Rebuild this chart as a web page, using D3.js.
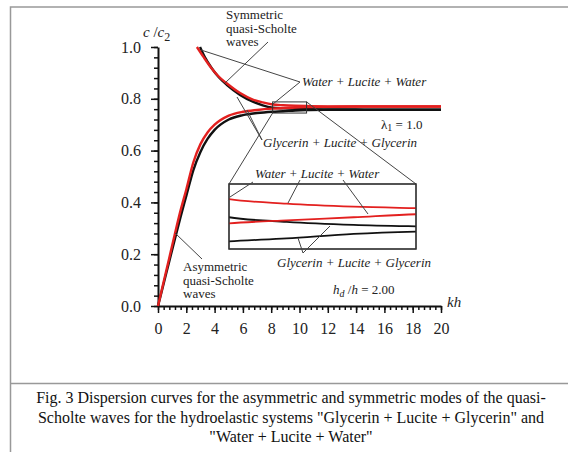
<html>
<head>
  <style>
    body { margin: 0; background: #fff; }
    svg text { font-family: "Liberation Serif", "Times New Roman", serif; fill: #222; }
    svg .domain { stroke: #111; stroke-width: 2px; }
    svg .tick line { stroke: #111; stroke-width: 1.5px; }
    svg .tick text { font-size: 16px; font-family: "Liberation Serif", serif; }
    svg .lead { stroke: #444; stroke-width: 1px; fill: none; }
    svg .frame { stroke: #999; stroke-width: 1.5px; fill: none; }
    svg .curve { fill: none; stroke-width: 2.4px; stroke-linejoin: round; }
    svg .box { stroke: #333; stroke-width: 1.2px; fill: #fff; }
    svg .note { font-size: 13px; }
    svg .it { font-style: italic; }
  </style>
</head>
<body>
<div id="chart"></div>
<script src="https://d3js.org/d3.v7.min.js"></script>
<script>
  // axis ticks
  var xTicks = [0, 2, 4, 6, 8, 10, 12, 14, 16, 18, 20];
  var yTicks = [0.0, 0.2, 0.4, 0.6, 0.8, 1.0];

  // symmetric quasi-Scholte waves (upper branches)
  var khWaterSym = [2.75, 3.2, 3.7, 4.25, 4.85, 5.8, 6.7, 7.4, 8.1, 8.84, 9.7, 10.5, 12, 14, 17, 20];
  var cWaterSym  = [1.0, 0.963, 0.924, 0.888, 0.86, 0.822, 0.797, 0.786, 0.778, 0.775, 0.773, 0.772, 0.7705, 0.770, 0.770, 0.770];
  var khGlySym   = [2.97, 3.3, 3.8, 4.3, 4.9, 5.8, 6.7, 7.4, 8.1, 8.84, 9.7, 10.5, 12, 14, 17, 20];
  var cGlySym    = [1.0, 0.962, 0.918, 0.883, 0.852, 0.815, 0.789, 0.775, 0.766, 0.763, 0.761, 0.760, 0.759, 0.7585, 0.758, 0.758];

  // asymmetric quasi-Scholte waves (lower branches)
  var khAsym     = [0, 0.3, 0.6, 0.9, 1.2, 1.6, 2.0, 2.5, 3.0, 3.5, 4.0, 5.0, 6.0, 7.0, 8.1, 8.84, 9.7, 10.5, 12, 14, 17, 20];
  var cWaterAsym = [0, 0.07, 0.14, 0.21, 0.28, 0.37, 0.45, 0.555, 0.625, 0.67, 0.70, 0.735, 0.750, 0.757, 0.762, 0.764, 0.766, 0.768, 0.769, 0.770, 0.770, 0.770];
  var cGlyAsym   = [0, 0.065, 0.13, 0.195, 0.26, 0.345, 0.425, 0.525, 0.595, 0.645, 0.68, 0.72, 0.737, 0.745, 0.750, 0.752, 0.755, 0.7565, 0.7575, 0.758, 0.758, 0.758];

  // zoom window shown in the inset
  var insetKh = [8.1, 10.5];
  var insetC  = [0.745, 0.788];

  var caption = [
    "Fig. 3 Dispersion curves for the asymmetric and symmetric modes of the quasi-",
    "Scholte waves for the hydroelastic systems \"Glycerin + Lucite + Glycerin\" and",
    "\"Water + Lucite + Water\""
  ];

  var W = 568, H = 452;
  var RED = "#e3201f", BLACK = "#111";

  var svg = d3.select("#chart").append("svg")
      .attr("width", W)
      .attr("height", H);

  // page frame
  svg.append("path").classed("frame", true)
      .attr("d", "M568,7 H10.5 V452 M10.5,383.5 H568");

  var x = d3.scaleLinear().domain([0, 20]).range([158, 441]);
  var y = d3.scaleLinear().domain([0, 1]).range([306, 47]);

  var series = [
    { kh: khGlySym,  c: cGlySym,    color: BLACK },
    { kh: khAsym,    c: cGlyAsym,   color: BLACK },
    { kh: khWaterSym, c: cWaterSym, color: RED },
    { kh: khAsym,    c: cWaterAsym, color: RED }
  ];

  function pts(s) {
    return s.kh.map(function (k, i) { return [k, s.c[i]]; });
  }

  var line = d3.line()
      .x(function (d) { return x(d[0]); })
      .y(function (d) { return y(d[1]); })
      .curve(d3.curveMonotoneX);

  // axes
  var xMinor = d3.range(0, 20.001, 0.4);
  var yMinor = d3.range(0, 1.001, 0.04);

  svg.append("g")
      .attr("transform", "translate(0," + y(0) + ")")
      .call(d3.axisBottom(x).tickValues(xMinor).tickSize(4).tickFormat(""))
      .select(".domain").remove();
  svg.append("g")
      .attr("transform", "translate(" + x(0) + ",0)")
      .call(d3.axisLeft(y).tickValues(yMinor).tickSize(4).tickFormat(""))
      .select(".domain").remove();

  svg.append("g")
      .attr("transform", "translate(0," + y(0) + ")")
      .call(d3.axisBottom(x).tickValues(xTicks).tickSize(7).tickSizeOuter(0).tickPadding(10));
  svg.append("g")
      .attr("transform", "translate(" + x(0) + ",0)")
      .call(d3.axisLeft(y).tickValues(yTicks).tickFormat(d3.format(".1f"))
        .tickSize(7).tickSizeOuter(0).tickPadding(10));

  // curves
  svg.selectAll("path.main")
    .data(series)
    .enter().append("path")
      .attr("class", "curve main")
      .attr("d", function (s) { return line(pts(s)); })
      .style("stroke", function (s) { return s.color; });

  // axis titles
  var ct = svg.append("text").attr("x", 143).attr("y", 37).style("font-size", "15px");
  ct.append("tspan").classed("it", true).text("c");
  ct.append("tspan").text(" /");
  ct.append("tspan").classed("it", true).text("c");
  ct.append("tspan").attr("dy", 4).style("font-size", "12px").text("2");

  svg.append("text").attr("x", 447).attr("y", 307)
      .classed("it", true).style("font-size", "15px").text("kh");

  // small zoom box and connectors
  var bx0 = x(insetKh[0]), bx1 = x(insetKh[1]);
  var by0 = y(insetC[1]), by1 = y(insetC[0]);
  var ix0 = 229, ix1 = 416, iy0 = 184, iy1 = 249;

  svg.append("path").classed("lead", true)
      .attr("d", "M" + ix0 + "," + iy0 + "L" + bx0 + "," + by1 +
                 "M" + ix1 + "," + iy0 + "L" + bx1 + "," + by0);
  svg.append("rect")
      .attr("x", bx0).attr("y", by0)
      .attr("width", bx1 - bx0).attr("height", by1 - by0)
      .style("fill", "none").style("stroke", "#333").style("stroke-width", "1px");

  // inset
  var xi = d3.scaleLinear().domain(insetKh).range([ix0, ix1]);
  var yi = d3.scaleLinear().domain(insetC).range([iy1, iy0]);

  svg.append("rect").classed("box", true)
      .attr("x", ix0).attr("y", iy0)
      .attr("width", ix1 - ix0).attr("height", iy1 - iy0);

  svg.append("clipPath").attr("id", "insetClip")
    .append("rect")
      .attr("x", ix0).attr("y", iy0)
      .attr("width", ix1 - ix0).attr("height", iy1 - iy0);

  var lineInset = d3.line()
      .x(function (d) { return xi(d[0]); })
      .y(function (d) { return yi(d[1]); })
      .curve(d3.curveMonotoneX);

  svg.append("g").attr("clip-path", "url(#insetClip)")
    .selectAll("path")
    .data(series)
    .enter().append("path")
      .attr("class", "curve")
      .style("stroke-width", "1.8px")
      .attr("d", function (s) { return lineInset(pts(s)); })
      .style("stroke", function (s) { return s.color; });

  svg.append("rect")
      .attr("x", ix0).attr("y", iy0)
      .attr("width", ix1 - ix0).attr("height", iy1 - iy0)
      .style("fill", "none").style("stroke", "#333").style("stroke-width", "1.2px");

  // leader lines for the labels
  var leads = [
    [[268, 42], [225, 83]],
    [[300, 82], [201, 50]],
    [[300, 82], [273, 104]],
    [[262, 140], [237, 97]],
    [[262, 140], [247, 110]],
    [[202, 259], [175, 233]],
    [[253, 182], [230, 197]],
    [[300, 180], [288, 203]],
    [[343, 180], [368, 214]],
    [[303, 253], [298, 238]],
    [[303, 253], [330, 226]]
  ];
  svg.selectAll("path.ld")
    .data(leads)
    .enter().append("path")
      .attr("class", "lead ld")
      .attr("d", function (d) { return d3.line()(d); });

  // annotation texts
  function block(x0, y0, lines) {
    var t = svg.append("text").classed("note", true);
    lines.forEach(function (s, i) {
      t.append("tspan").attr("x", x0).attr("y", y0 + i * 13.5).text(s);
    });
  }
  block(226, 19, ["Symmetric", "quasi-Scholte", "waves"]);
  block(183, 271, ["Asymmetric", "quasi-Scholte", "waves"]);

  function it(x0, y0, s) {
    svg.append("text").attr("class", "note it")
        .attr("x", x0).attr("y", y0).text(s);
  }
  it(302, 86, "Water + Lucite + Water");
  it(263, 147, "Glycerin + Lucite + Glycerin");
  it(255, 178, "Water + Lucite + Water");
  it(277, 267, "Glycerin + Lucite + Glycerin");

  var lam = svg.append("text").classed("note", true).attr("x", 381).attr("y", 129);
  lam.append("tspan").text("\u03bb");
  lam.append("tspan").attr("dy", 2).style("font-size", "10px").text("1");
  lam.append("tspan").attr("dy", -2).text(" = 1.0");

  var hd = svg.append("text").classed("note", true).attr("x", 333).attr("y", 294);
  hd.append("tspan").classed("it", true).text("h");
  hd.append("tspan").attr("dy", 3).classed("it", true).style("font-size", "10px").text("d");
  hd.append("tspan").attr("dy", -3).text(" /");
  hd.append("tspan").classed("it", true).text("h");
  hd.append("tspan").text(" = 2.00");

  // caption
  svg.append("g").selectAll("text")
    .data(caption)
    .enter().append("text")
      .attr("x", 291)
      .attr("y", function (d, i) { return 403 + i * 19.5; })
      .attr("text-anchor", "middle")
      .style("font-size", "16px")
      .style("fill", "#111")
      .text(function (d) { return d; });
</script>
</body>
</html>
